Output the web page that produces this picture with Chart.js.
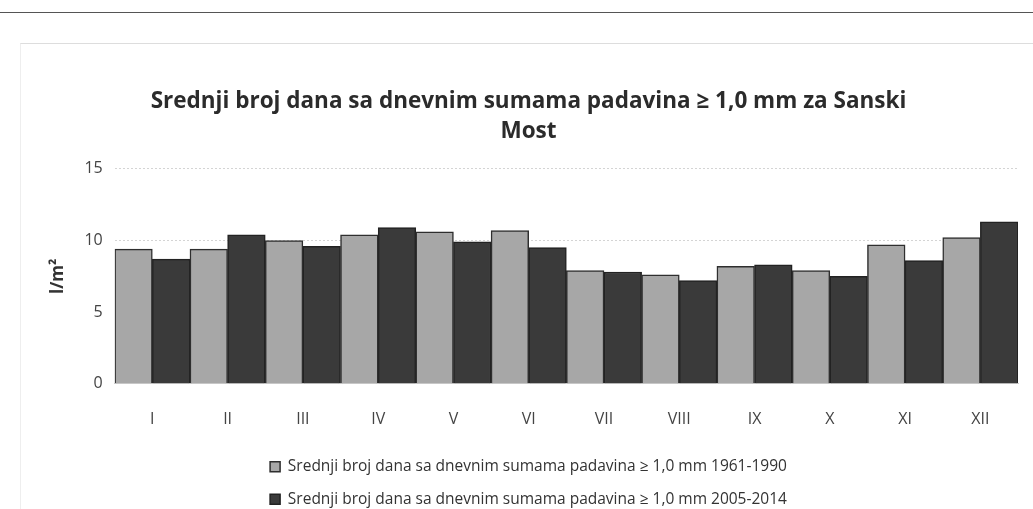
<!DOCTYPE html>
<html lang="bs">
<head>
    <meta charset="UTF-8">
    <title>Srednji broj dana sa padavinama - Sanski Most</title>
    <script src="https://cdn.jsdelivr.net/npm/chart.js"></script>
    <style>
        html, body { margin: 0; padding: 0; background: #fff; }
        .scan-line { position: absolute; left: 0; top: 12px; width: 100%; height: 1px; background: #555; }
        .frame { position: absolute; left: 20px; top: 43px; right: 0; bottom: 0; border-top: 1px solid #ddd; border-left: 1px solid #eee; }
        .wrap { position: absolute; left: 0; top: 0; width: 1033px; height: 509px; }
    </style>
</head>
<body>
    <div class="scan-line"></div>
    <div class="frame"></div>
    <div class="wrap"><canvas id="rainChart"></canvas></div>

    <script>
        // months (roman numerals) and mean number of days with >= 1.0 mm precipitation
        const months = ['I', 'II', 'III', 'IV', 'V', 'VI', 'VII', 'VIII', 'IX', 'X', 'XI', 'XII'];
        const days1961_1990 = [9.4, 9.4, 10.0, 10.4, 10.6, 10.7, 7.9, 7.6, 8.2, 7.9, 9.7, 10.2];
        const days2005_2014 = [8.7, 10.4, 9.6, 10.9, 9.9, 9.5, 7.8, 7.2, 8.3, 7.5, 8.6, 11.3];
        const yTicks = [0, 5, 10, 15];

        const font = "'Open Sans', sans-serif";

        const ctx = document.getElementById('rainChart').getContext('2d');
        const rainChart = new Chart(ctx, {
            type: 'bar',
            data: {
                labels: months,
                datasets: [{
                    label: 'Srednji broj dana sa dnevnim sumama padavina \u2265 1,0 mm 1961-1990',
                    data: days1961_1990,
                    backgroundColor: '#a7a7a7',
                    borderColor: '#2e2e2e',
                    borderWidth: 1.5
                }, {
                    label: 'Srednji broj dana sa dnevnim sumama padavina \u2265 1,0 mm 2005-2014',
                    data: days2005_2014,
                    backgroundColor: '#3a3a3a',
                    borderColor: '#222',
                    borderWidth: 1.5
                }]
            },
            options: {
                responsive: true,
                maintainAspectRatio: false,
                animation: false,
                layout: { padding: { top: 87, right: 15, left: 39, bottom: -8 } },
                datasets: {
                    bar: { categoryPercentage: 1.0, barPercentage: 1.0 }
                },
                plugins: {
                    title: {
                        display: true,
                        text: ['Srednji broj dana sa dnevnim sumama padavina \u2265 1,0 mm za Sanski', 'Most'],
                        color: '#2b2b2b',
                        font: { family: font, size: 22.5, weight: 'bold', lineHeight: 1.33 },
                        padding: { top: 0, bottom: 22 }
                    },
                    legend: {
                        position: 'bottom',
                        labels: {
                            color: '#333',
                            font: { family: font, size: 15.5 },
                            boxWidth: 10,
                            boxHeight: 10,
                            padding: 17
                        }
                    },
                    tooltip: { enabled: false }
                },
                scales: {
                    x: {
                        grid: { display: false },
                        border: { color: '#ccc' },
                        ticks: { color: '#444', font: { family: font, size: 16 }, padding: 18 },
                        afterFit: axis => { axis.height -= 5; }
                    },
                    y: {
                        min: 0,
                        max: 15,
                        afterBuildTicks: axis => { axis.ticks = yTicks.map(v => ({ value: v })); },
                        grid: { color: '#d4d4d4', drawTicks: false },
                        border: { display: false, dash: [2, 2] },
                        ticks: { color: '#444', font: { family: font, size: 16 }, padding: 12 },
                        title: {
                            display: true,
                            text: 'l/m\u00b2',
                            color: '#333',
                            font: { family: font, size: 17, weight: 'bold' },
                            padding: { top: 9, bottom: 4 }
                        }
                    }
                }
            }
        });
    </script>
</body>
</html>
